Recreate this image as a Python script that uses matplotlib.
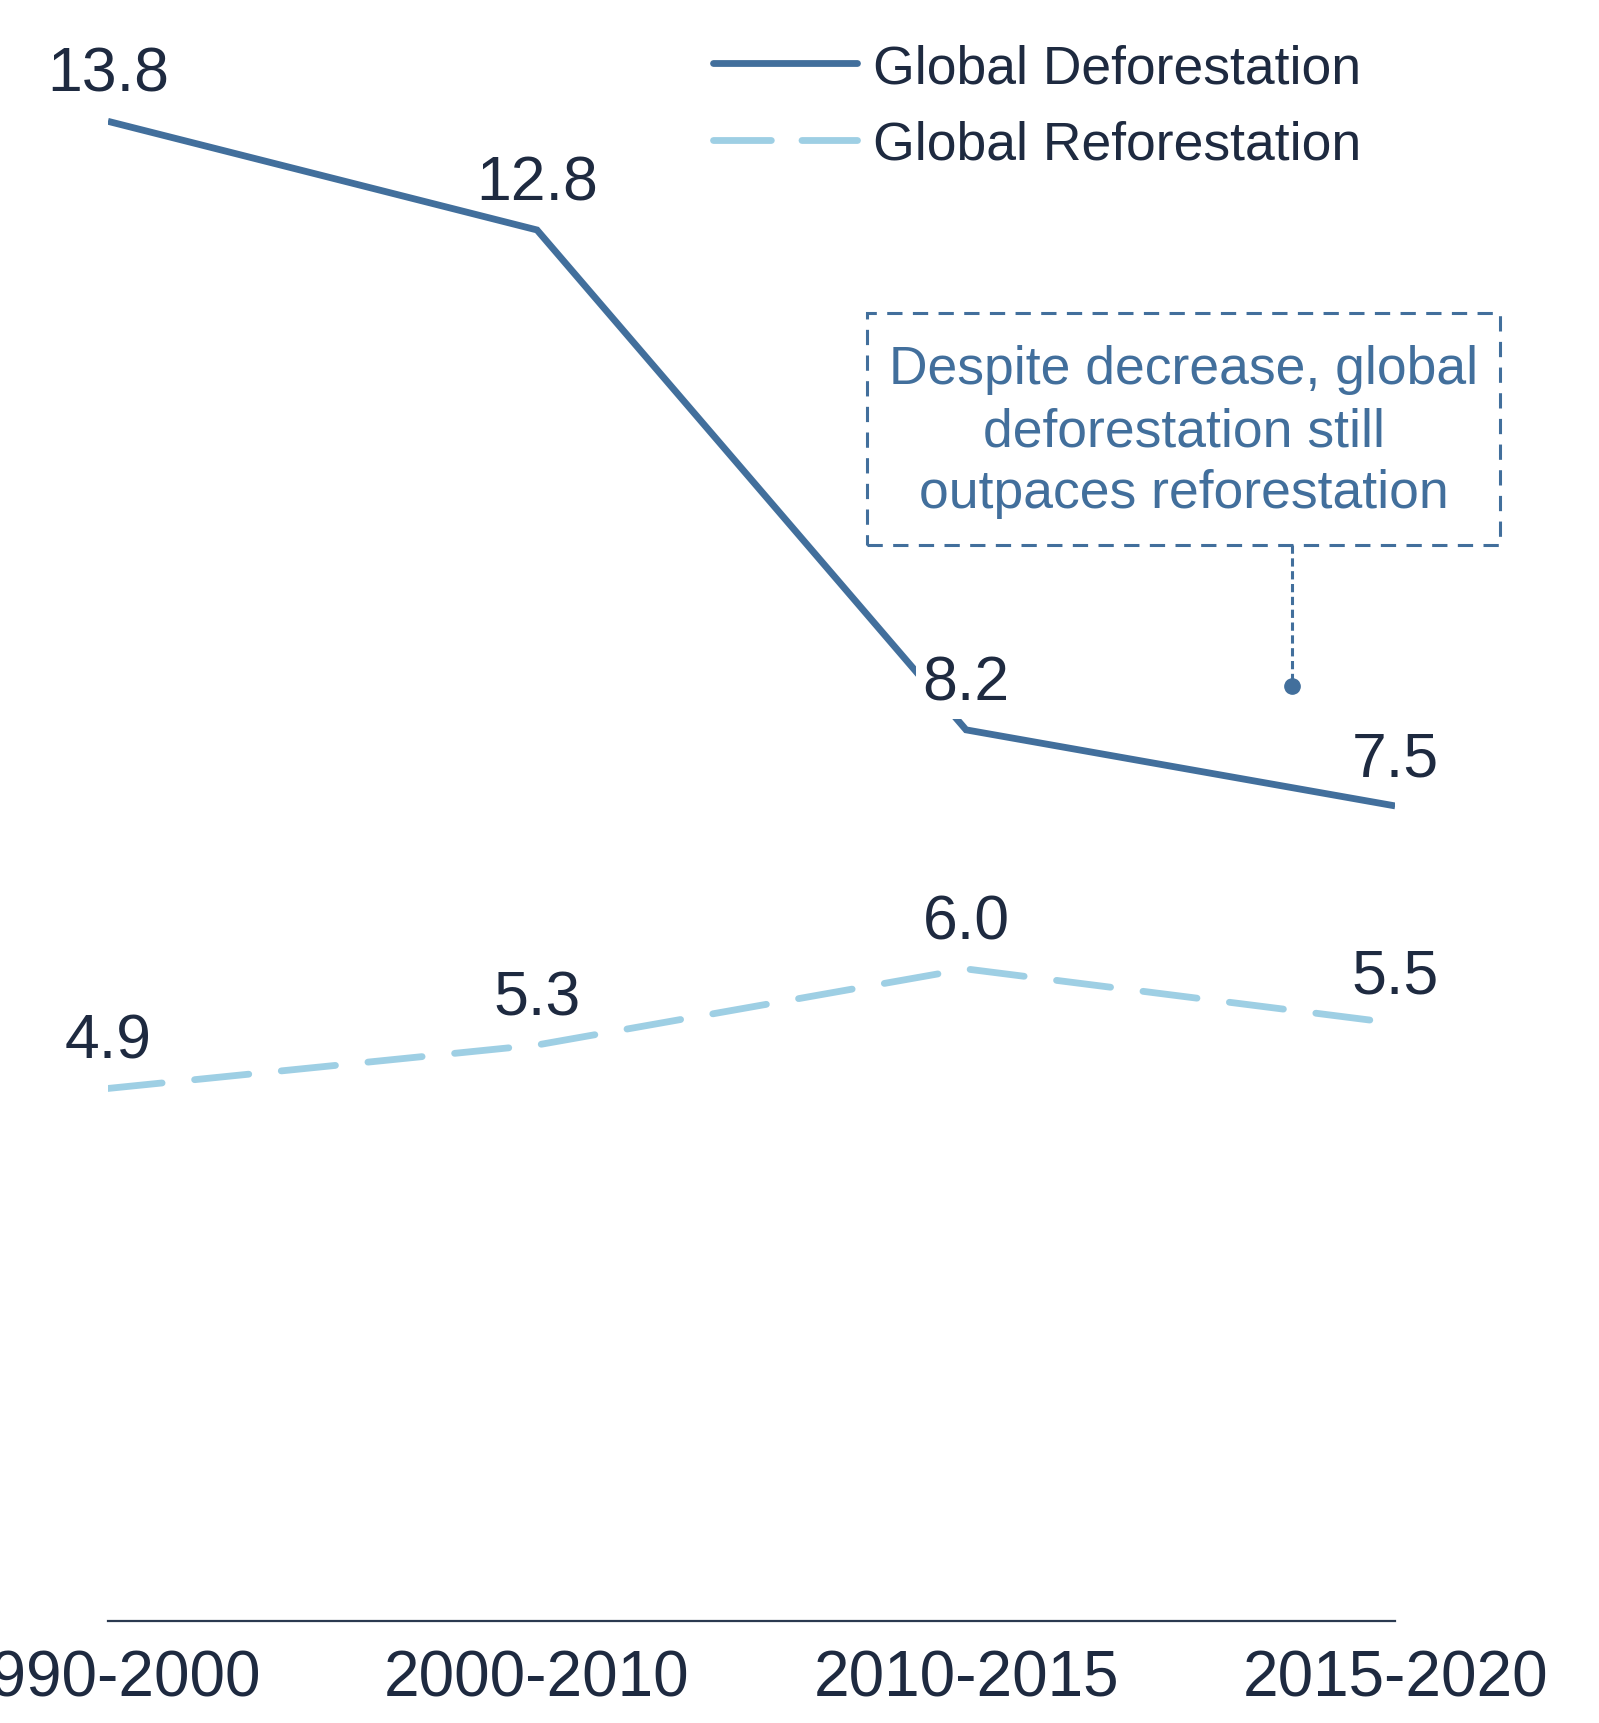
import matplotlib
matplotlib.use("Agg")
import matplotlib.pyplot as plt
from matplotlib.patches import Rectangle
from matplotlib.lines import Line2D

periods = ["1990-2000", "2000-2010", "2010-2015", "2015-2020"]
deforestation = [13.8, 12.8, 8.2, 7.5]
reforestation = [4.9, 5.3, 6.0, 5.5]

note = "Despite decrease, global\ndeforestation still\noutpaces reforestation"

DARK = "#426f9c"
LIGHT = "#9ecfe4"
INK = "#1e2a40"

plt.rcParams["font.family"] = ["Liberation Sans", "DejaVu Sans"]

fig = plt.figure(figsize=(15.99, 17.24), dpi=100, facecolor="white")
ax = fig.add_axes([0.0675, 0.0592, 0.805, 0.9455])

x = list(range(len(periods)))
ax.plot(x, deforestation, color=DARK, lw=4.9, solid_capstyle="butt",
        solid_joinstyle="miter", label="Global Deforestation", zorder=2)
ax.plot(x, reforestation, color=LIGHT, lw=4.9, ls=(0, (8, 4.8)),
        dash_capstyle="round", label="Global Reforestation", zorder=2)

# the 8.2 label sits on a white patch that hides the line under it
for i, (xi, v) in enumerate(zip(x, deforestation)):
    box = dict(boxstyle="square,pad=0.1", fc="white", ec="none") if i == 2 else None
    ax.annotate(f"{v:.1f}", (xi, v), xytext=(0, 22), textcoords="offset points",
                ha="center", va="baseline", fontsize=45, color=INK, zorder=3,
                bbox=box)
for xi, v in zip(x, reforestation):
    ax.annotate(f"{v:.1f}", (xi, v), xytext=(0, 22), textcoords="offset points",
                ha="center", va="baseline", fontsize=45, color=INK, zorder=3)

# callout box
bx0, bx1, by0, by1 = 1.77, 3.245, 9.9, 12.04
ax.add_patch(Rectangle((bx0, by0), bx1 - bx0, by1 - by0, fill=False,
                       ec=DARK, lw=2.2, ls=(0, (5, 3.4)), clip_on=False))
ax.text((bx0 + bx1) / 2, (by0 + by1) / 2 - 0.02, note, ha="center", va="center",
        fontsize=38.5, color=DARK, linespacing=1.32)
ax.plot([2.76, 2.76], [by0, 8.6], color=DARK, lw=2.2, ls=(0, (2.7, 1.5)),
        clip_on=False)
ax.plot([2.76], [8.6], "o", color=DARK, ms=11, clip_on=False)

ax.set_xlim(0, 3)
ax.set_ylim(0, 15)
ax.set_xticks(x)
ax.set_xticklabels(periods, fontsize=46, color=INK)
ax.tick_params(axis="x", length=0, pad=19.5)
ax.set_yticks([])
for s in ["top", "right", "left"]:
    ax.spines[s].set_visible(False)
ax.spines["bottom"].set_color("#2b3a50")
ax.spines["bottom"].set_linewidth(1.6)

handles = [
    Line2D([], [], color=DARK, lw=4.9, solid_capstyle="round"),
    Line2D([], [], color=LIGHT, lw=4.9, ls=(0, (8.5, 4.5)), dash_capstyle="round"),
]
fig.legend(handles, ["Global Deforestation", "Global Reforestation"],
           loc="upper left", bbox_to_anchor=(713 / 1599, 1 - 44 / 1724),
           frameon=False, fontsize=38.5, labelcolor=INK, handlelength=2.7,
           handletextpad=0.3, labelspacing=0.5, borderpad=0, borderaxespad=0)

plt.savefig("out.png", dpi=100, facecolor="white")
